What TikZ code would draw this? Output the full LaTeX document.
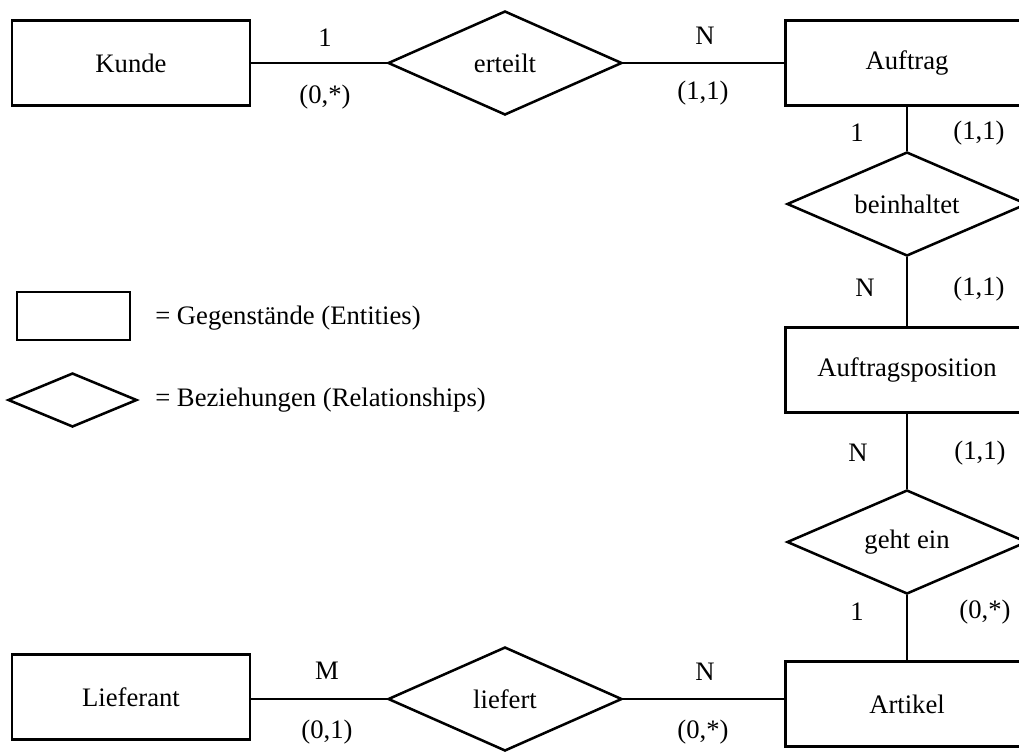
\documentclass[tikz,border=0pt]{standalone}
\usepackage{fontspec}
\setmainfont{Liberation Serif}
\usetikzlibrary{shapes.geometric}

\tikzset{
  er/.style={draw, line width=1.9pt, inner sep=0pt,
             font=\fontsize{20}{24}\selectfont},
  entity/.style={er, rectangle, minimum width=178.5pt, minimum height=64pt},
  relation/.style={er, diamond, aspect=2.3, minimum width=175.5pt, minimum height=78pt},
  relationv/.style={relation, minimum width=180pt},
  card/.style={inner sep=0pt, font=\fontsize{20}{24}\selectfont},
  link/.style={line width=1.9pt},
  legendtext/.style={card, anchor=west},
}

\begin{document}
\begin{tikzpicture}[x=0.75pt, y=-0.75pt]
  \useasboundingbox (0,0) rectangle (1019,751);
  \clip (0,0) rectangle (1019,751);

  % entities and relationships
  \node[entity]    (kunde)      at (131,63)   {Kunde};
  \node[relation]  (erteilt)    at (505,63)   {erteilt};
  \node[entity, minimum width=182pt] (auftrag) at (907,63) {Auftrag};
  \node[relationv] (beinhaltet) at (907,204)  {beinhaltet};
  \node[entity, minimum width=182pt] (position) at (907,370) {Auftragsposition};
  \node[relationv] (gehtein)    at (907,542)  {geht ein};
  \node[entity, minimum width=182pt] (artikel) at (907,704) {Artikel};
  \node[relation]  (liefert)    at (505,699)  {liefert};
  \node[entity]    (lieferant)  at (131,697)  {Lieferant};

  % connectors
  \draw[link] (kunde.east) -- (erteilt.west);
  \draw[link] (erteilt.east) -- (auftrag.west);
  \draw[link] (auftrag.south) -- (beinhaltet.north);
  \draw[link] (beinhaltet.south) -- (position.north);
  \draw[link] (position.south) -- (gehtein.north);
  \draw[link] (gehtein.south) -- (artikel.north);
  \draw[link] (lieferant.east |- liefert.west) -- (liefert.west);
  \draw[link] (liefert.east) -- (artikel.west |- liefert.east);

  % cardinalities
  \node[card] (c1)  at (325,38)  {1};
  \node[card] (c2)  at (325,97)  {(0,*)};
  \node[card] (c3)  at (705,36)  {N};
  \node[card] (c4)  at (703,93)  {(1,1)};
  \node[card] (c5)  at (857,133) {1};
  \node[card] (c6)  at (979,133) {(1,1)};
  \node[card] (c7)  at (865,288) {N};
  \node[card] (c8)  at (979,289) {(1,1)};
  \node[card] (c9)  at (858,453) {N};
  \node[card] (c10) at (980,453) {(1,1)};
  \node[card] (c11) at (857,612) {1};
  \node[card] (c12) at (985,612) {(0,*)};
  \node[card] (c13) at (327,671) {M};
  \node[card] (c14) at (327,732) {(0,1)};
  \node[card] (c15) at (705,672) {N};
  \node[card] (c16) at (703,732) {(0,*)};

  % legend
  \node[er, rectangle, minimum width=84.75pt, minimum height=36pt] (legrect) at (73.5,316) {};
  \node[er, diamond, minimum width=96.75pt, minimum height=40.5pt] (legdia) at (72.5,400) {};
  \node[legendtext] (legrecttxt) at (155,318) {= Gegenstände (Entities)};
  \node[legendtext] (legdiatxt)  at (155,400) {= Beziehungen (Relationships)};
\end{tikzpicture}
\end{document}
